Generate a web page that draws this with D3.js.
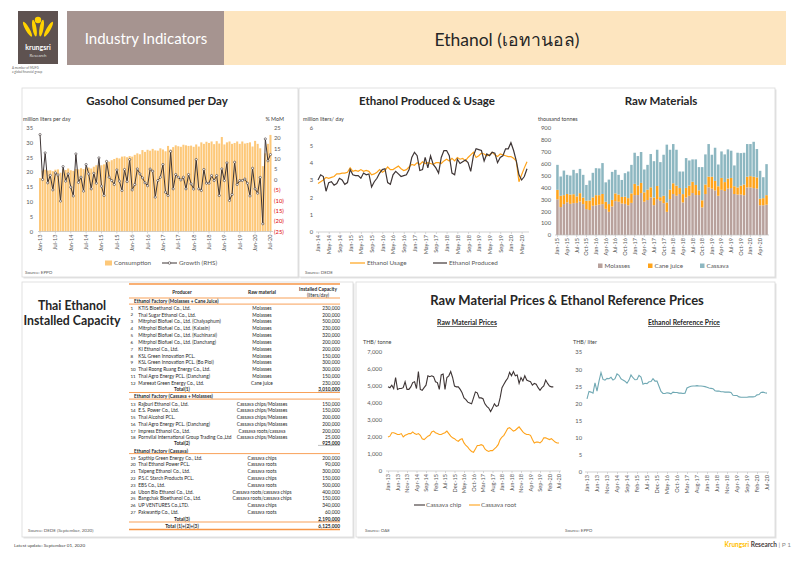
<!DOCTYPE html>
<html>
<head>
<meta charset="utf-8">
<script src="https://cdn.jsdelivr.net/npm/d3@7"></script>
<style>
body { margin: 0; background: #fff; }
svg { font-family: Lato, "Noto Sans", "DejaVu Sans", sans-serif; }
</style>
</head>
<body>
<svg id="page" width="800" height="565"></svg>
<script>
// ---------- data ----------
const gasTicks = ["Jan-13","Jul-13","Jan-14","Jul-14","Jan-15","Jul-15","Jan-16","Jul-16","Jan-17","Jul-17","Jan-18","Jul-18","Jan-19","Jul-19","Jan-20","Jul-20"];
const consumption = [
  18.0, 20.5, 20.8, 20.5, 20.6, 20.3, 20.8, 20.9, 19.8, 21.0, 20.7, 21.2,
  20.6, 20.4, 21.0, 20.9, 21.3, 21.0, 21.6, 21.5, 21.2, 21.8, 22.3, 22.4,
  22.3, 22.6, 23.8, 23.5, 24.0, 24.4, 24.8, 24.6, 25.2, 25.3, 25.0, 25.4,
  25.2, 25.8, 26.3, 26.0, 27.4, 26.8, 27.5, 27.2, 27.8, 27.3, 27.2, 28.0,
  27.6, 27.0, 28.8, 27.6, 28.4, 29.0, 28.7, 28.5, 29.2, 29.0, 28.8, 28.9,
  28.5, 29.3, 28.6, 30.0, 29.5, 30.2, 29.8, 30.3, 29.4, 30.4, 29.6, 31.8,
  29.3, 30.0, 30.3, 29.5, 29.8, 30.3, 29.5, 30.3, 29.6, 29.8, 30.0, 28.6,
  30.5, 29.5, 28.0, 22.0, 26.3, 29.5, 32.5
];
const growth = [
  21.6, 0, 12.8, -1.6, 2, -5, 3.2, 2.2, -10.4, 6.2,
  -0.8, 2.7, -3.7, -7.9, 12.3, -1.4, 1.1, -5.6, 7.2, 2.7,
  -4.5, 3, -1.8, 10.4, -3.2, -7.7, 8.7, 1.1, -0.5, -2.4,
  4.6, -0.8, -5.3, 4.8, -1, 9.6, -5, -2.4, 5.1, 2.7,
  0.8, -1.6, -3, 5, 4, -8.5, -0.5, 1.1, 7.2, -6.1,
  -7.7, 13.5, -4.5, 2.4, 1.1, -0.2, 1.1, -4.5, 2.4, -2.1,
  -4.6, 9.6, -4.5, -5.3, 4.8, -1.8, -1.8, 1.9, -0.5, 1.9,
  -7.7, 5.1, -0.5, 8, -10.1, -7.2, 8.3, -2.4, -0.5, -0.5,
  0.2, -1.8, -7.9, 5.4, -4.5, -6.6, 1, -21.3, 19.5, 9, 12
];

const ethTicks = ["Jan-14","May-14","Sep-14","Jan-15","May-15","Sep-15","Jan-16","May-16","Sep-16","Jan-17","May-17","Sep-17","Jan-18","May-18","Sep-18","Jan-19","May-19","Sep-19","Jan-20","May-20"];
const ethanolUsage = [
  2.8, 2.9, 3.0, 3.15, 3.1, 3.15, 3.2, 3.35, 3.35, 3.4, 3.4, 3.45,
  3.7, 3.5, 3.55, 3.5, 3.6, 3.5, 3.55, 3.5, 3.3, 3.35, 3.45, 3.6,
  3.45, 3.55, 3.75, 3.6, 3.6, 3.7, 3.8, 3.65, 3.55, 3.6, 3.75, 3.9,
  3.85, 4.0, 3.9, 4.05, 3.95, 4.0, 3.95, 3.9, 4.0, 4.0, 3.95, 4.1,
  4.2, 4.1, 4.25, 4.1, 4.3, 4.2, 4.25, 4.1, 4.3, 4.45, 4.6, 4.3,
  4.4, 4.55, 4.5, 4.4, 4.45, 4.6, 4.45, 4.35, 4.5, 4.45, 4.4, 4.35,
  4.35, 4.25, 4.1, 2.9, 3.3, 3.7, 4.05
];
const ethanolProduced = [
  3.0, 3.3, 3.2, 2.35, 2.85, 2.9, 2.7, 2.8, 3.1, 3.0, 2.75, 2.85,
  3.6, 3.3, 3.25, 3.25, 3.1, 3.4, 3.3, 3.35, 2.6, 2.9, 3.1, 3.4,
  3.6, 3.65, 2.85, 2.75, 3.3, 3.5, 3.35, 3.2, 3.25, 3.3, 3.6, 4.3,
  4.6, 4.4, 3.55, 3.6, 4.3, 3.7, 4.4, 3.9, 3.7, 3.4, 4.3, 4.7,
  4.7, 4.4, 3.4, 3.3, 4.2, 3.95, 4.05, 4.15, 4.0, 3.5, 4.4, 4.8,
  4.75, 4.7, 4.1, 4.5, 4.4, 4.6, 4.55, 4.0, 4.3, 4.4, 4.8, 4.8,
  5.15, 4.7, 4.1, 3.3, 3.0, 3.2, 3.65
];

const rawTicks = ["Jan-15","Apr-15","Jul-15","Oct-15","Jan-16","Apr-16","Jul-16","Oct-16","Jan-17","Apr-17","Jul-17","Oct-17","Jan-18","Apr-18","Jul-18","Oct-18","Jan-19","Apr-19","Jul-19","Oct-19","Jan-20","Apr-20"];
const molasses = [
  300, 235, 260, 275, 262, 268, 270, 282, 260, 218, 210, 246,
  250, 255, 260, 220, 195, 240, 285, 280, 265, 262, 250, 270,
  336, 336, 353, 280, 294, 316, 251, 302, 288, 268, 195, 302,
  345, 330, 345, 274, 316, 330, 353, 336, 336, 232, 345, 401,
  390, 375, 330, 380, 370, 390, 395, 345, 340, 340, 335, 400,
  400, 395, 390, 250, 250, 255
];
const caneJuice = [
  80, 95, 75, 70, 78, 75, 55, 70, 55, 70, 80, 70,
  85, 80, 85, 60, 65, 55, 65, 60, 55, 60, 60, 80,
  94, 80, 85, 79, 87, 85, 65, 110, 30, 62, 79, 79,
  90, 85, 50, 70, 80, 85, 95, 85, 40, 60, 80, 90,
  100, 80, 80, 100, 75, 85, 85, 65, 60, 75, 90, 90,
  95, 95, 95, 55, 60, 80
];
const cassava = [
  210, 162, 207, 161, 160, 205, 195, 204, 191, 133, 168, 207,
  227, 225, 260, 163, 206, 236, 198, 166, 143, 198, 224, 240,
  262, 248, 260, 192, 209, 280, 305, 305, 295, 345, 486, 336,
  330, 302, 139, 190, 251, 212, 188, 215, 195, 279, 253, 274,
  185, 279, 183, 223, 233, 245, 229, 175, 292, 274, 267, 275,
  270, 294, 238, 235, 176, 261
];

const priceTicks = ["Jan-13","Jun-13","Nov-13","Apr-14","Sep-14","Feb-15","Jul-15","Dec-15","May-16","Oct-16","Mar-17","Aug-17","Jan-18","Jun-18","Nov-18","Apr-19","Sep-19","Feb-20","Jul-20"];
const cassavaChip = [
  4950, 4900, 5050, 4850, 5500, 4800, 4850, 4850, 4900, 5250,
  4800, 4800, 4950, 5200, 5250, 4850, 5850, 4800, 4750, 4900,
  5050, 5600, 5550, 5600, 5550, 5250, 5200, 4800, 5650, 5700,
  4800, 5500, 5600, 5850, 5500, 5000, 4950, 4950, 4800, 4600,
  4300, 4200, 4050, 4000, 3950, 4300, 4650, 4600, 4300, 4300,
  4250, 3950, 3800, 3700, 3500, 3700, 3950, 3800, 3850, 4300,
  4900, 5100, 5300, 5450, 5800, 5600, 5850, 5600, 5650, 5150,
  5500, 5300, 5600, 5350, 5300, 5250, 5050, 5150, 5100, 4900,
  4750, 4900, 5000, 5350, 5150, 5000, 4950, 4950, null, null, null
];
const cassavaRoot = [
  2000, 2050, 2250, 2250, 2200, 2150, 2150, 2200, 2000, 2100,
  2150, 2200, 2200, 2300, 2200, 2150, 2200, 2100, 1900, 1850,
  1950, 2050, 2100, 2300, 2350, 2250, 2200, 2150, 2150, 2200,
  2250, 2350, 2200, 2050, 1950, 1900, 1800, 1750, 1850, 1900,
  1650, 1500, 1400, 1250, 1150, 1100, 1300, 1500, 1500, 1550,
  1500, 1300, 1200, 1150, 1200, 1200, 1300, 1400, 1550, 1850,
  2000, 2100, 2300, 2500, 2550, 2450, 2350, 2400, 2500, 2600,
  2450, 2300, 2200, 2150, 2150, 2100, 1850, 1650, 1700, 1700,
  1650, 1750, 1950, 1950, 1900, 1850, 1900, 1800, 1700, 1650, 1650
];
const ethanolRefPrice = [
  21.3, 23.5, 23.3, 23.0, 26.0, 23.6, 26.5, 29.0, 27.0, 26.8,
  27.3, 27.2, 27.6, 26.8, 27.2, 28.6, 28.2, 27.2, 26.8, 26.5,
  25.9, 26.8, 28.3, 27.5, 26.9, 27.0, 28.2, 27.7, 25.6, 25.9,
  25.8, 26.3, 26.4, 27.2, 26.5, 26.5, 25.0, 23.5, 22.9, 22.9,
  23.1, 23.0, 22.8, 23.3, 23.2, 23.2, 23.0, 23.0, 22.9, 23.0,
  24.5, 24.8, 25.0, 25.1, 25.1, 25.2, 25.1, 25.1, 25.0, 24.9,
  24.7, 24.5, 24.4, 24.3, 23.7, 23.6, 23.6, 23.4, 23.4, 23.3,
  23.3, 23.3, 23.2, 22.4, 22.3, 22.3, 21.9, 21.8, 21.8, 21.8,
  21.8, 21.9, 21.9, 21.9, 22.0, 22.5, 22.6, 23.2, 23.3, 23.1, 23.0
];

// installed capacity table
const molassesFactories = [
  ["1", "KTIS Bioethanol Co., Ltd.", "Molasses", "230,000"],
  ["2", "Thai Sugar Ethanol Co., Ltd.", "Molasses", "200,000"],
  ["3", "Mitrphol Biofuel  Co., Ltd. (Chaiyaphum)", "Molasses", "500,000"],
  ["4", "Mitrphol Biofuel Co., Ltd. (Kalasin)", "Molasses", "230,000"],
  ["5", "Mitrphol Biofuel Co., Ltd. (Kuchinarai)", "Molasses", "320,000"],
  ["6", "Mitrphol Biofuel Co., Ltd. (Danchang)", "Molasses", "200,000"],
  ["7", "KI Ethanol Co., Ltd.", "Molasses", "200,000"],
  ["8", "KSL Green Innovation PCL.", "Molasses", "150,000"],
  ["9", "KSL Green Innovation PCL. (Bo Ploi)", "Molasses", "300,000"],
  ["10", "Thai Roong Ruang Energy Co., Ltd.", "Molasses", "300,000"],
  ["11", "Thai Agro Energy PCL. (Danchang)", "Molasses", "150,000"],
  ["12", "Mareeat Green Energy Co., Ltd.", "Cane juice", "230,000"]
];
const mixedFactories = [
  ["13", "Rajburi Ethanol Co., Ltd.", "Cassava chips/Molasses", "150,000"],
  ["14", "E.S. Power Co., Ltd.", "Cassava chips/Molasses", "150,000"],
  ["15", "Thai Alcohol PCL.", "Cassava chips/Molasses", "200,000"],
  ["16", "Thai Agro Energy PCL. (Danchang)", "Cassava chips/Molasses", "200,000"],
  ["17", "Impress Ethanol Co., Ltd.", "Cassava roots/cassava", "200,000"],
  ["18", "Pornvilai International Group Trading Co.,Ltd", "Cassava chips/Molasses", "25,000"]
];
const cassavaFactories = [
  ["19", "Sapthip Green Energy Co., Ltd.", "Cassava chips", "200,000"],
  ["20", "Thai Ethanol Power PCL.", "Cassava roots", "90,000"],
  ["21", "Taipeng Ethanol  Co., Ltd.", "Cassava roots", "300,000"],
  ["22", "P.S.C Starch Products PCL.", "Cassava chips", "150,000"],
  ["23", "EBS Co., Ltd.", "Cassava roots", "500,000"],
  ["24", "Ubon Bio Ethanol Co., Ltd.", "Cassava roots/cassava chips", "400,000"],
  ["25", "Bangchak Bioethanol Co., Ltd.", "Cassava roots/cassava chips", "150,000"],
  ["26", "UP VENTURES Co.,LTD.", "Cassava chips", "340,000"],
  ["27", "Pakwantip Co., Ltd.", "Cassava roots", "60,000"]
];
const totals = ["3,010,000", "925,000", "2,190,000", "6,125,000"];

// ---------- helpers ----------
const svg = d3.select("#page");
const fmtMonth = d3.timeFormat("%b-%y");
const monthsFrom = (y, m, n) => d3.timeMonth.range(new Date(y, m, 1), new Date(y, m + n, 1)).map(fmtMonth);
const TXT = "#595959";

function panel(x, y, w, h) {
  svg.append("rect").attr("x", x + 1.5).attr("y", y + 1.5).attr("width", w).attr("height", h).attr("fill", "#e3e3e3");
  svg.append("rect").attr("x", x).attr("y", y).attr("width", w).attr("height", h)
    .attr("fill", "#fff").attr("stroke", "#d9d9d9").attr("stroke-width", 0.8);
}
function label(x, y, t, o = {}) {
  return svg.append("text").attr("x", x).attr("y", y).text(t)
    .attr("font-size", o.size || 6).attr("fill", o.fill || TXT)
    .attr("font-weight", o.bold ? "bold" : null)
    .attr("text-anchor", o.anchor || "start");
}
function yAxis(scale, x, ticks, fmt, side) {
  const ax = (side === "right" ? d3.axisRight(scale) : d3.axisLeft(scale))
    .tickValues(ticks).tickSize(0).tickPadding(0).tickFormat(fmt);
  const g = svg.append("g").attr("transform", `translate(${x},0)`).call(ax);
  g.select(".domain").remove();
  g.attr("font-size", 5.8).attr("font-family", null);
  g.selectAll("text").attr("fill", TXT);
  return g;
}
function xAxis(scale, y, ticks, x0, x1) {
  const g = svg.append("g").attr("transform", `translate(0,${y})`)
    .call(d3.axisBottom(scale).tickValues(ticks).tickSize(2).tickSizeOuter(0));
  g.select(".domain").attr("d", `M${x0},0H${x1}`).attr("stroke", "#bfbfbf").attr("stroke-width", 0.7);
  g.selectAll(".tick line").attr("stroke", "#bfbfbf").attr("stroke-width", 0.6);
  g.attr("font-size", 5.6).attr("font-family", null);
  g.selectAll("text").attr("fill", TXT)
    .attr("transform", "rotate(-90)").attr("text-anchor", "end")
    .attr("x", -3).attr("y", 0).attr("dy", "0.35em");
  return g;
}

// ---------- header ----------
svg.append("rect").attr("x", 18).attr("y", 11).attr("width", 40).attr("height", 53).attr("fill", "#5e5250");
const logo = svg.append("g").attr("fill", "#ffd200");
[[-30, -6], [-10, -2], [10, 2], [30, 6]].forEach(([a, dx]) => {
  logo.append("ellipse").attr("cx", 38 + dx).attr("cy", 28).attr("rx", 2).attr("ry", 8.5)
    .attr("transform", `rotate(${a},${38 + dx},37)`);
});
logo.append("circle").attr("cx", 38).attr("cy", 20).attr("r", 3.2);
label(38, 50, "krungsri", { size: 7, fill: "#fff", anchor: "middle", bold: true });
label(38, 57, "Research", { size: 4.3, fill: "#ddd", anchor: "middle" });
label(12, 68.5, "A member of  MUFG", { size: 3, fill: "#666" });
label(12, 72.5, "a global financial group", { size: 3, fill: "#666" });

svg.append("rect").attr("x", 67).attr("y", 11).attr("width", 157).attr("height", 54).attr("fill", "#a69490");
svg.append("rect").attr("x", 224).attr("y", 11).attr("width", 562).attr("height", 54).attr("fill", "#fde5bf");
label(146, 43.5, "Industry Indicators", { size: 15, fill: "#fff", anchor: "middle" });
label(507, 45.5, "Ethanol (เอทานอล)", { size: 17.5, fill: "#262626", anchor: "middle" });

// ---------- panels ----------
panel(22, 88, 276, 189);
panel(299, 88, 476, 189);
panel(22, 282, 331, 255);
panel(356, 282, 419, 255);

// ---------- Gasohol consumed per day ----------
{
  const months = monthsFrom(2013, 0, consumption.length);
  const x = d3.scaleBand().domain(months).range([38.5, 272]).padding(0.2);
  const y = d3.scaleLinear().domain([0, 35]).range([231.5, 127.5]);
  const yR = d3.scaleLinear().domain([-25, 25]).range([231.5, 127.5]);

  label(157, 105, "Gasohol Consumed per Day", { size: 11.5, fill: "#262626", bold: true, anchor: "middle" });
  label(23, 121, "million liters per day", { size: 5.4, fill: "#404040" });
  label(284, 121, "% MoM", { size: 5.4, fill: "#404040", anchor: "end" });

  yAxis(y, 33, d3.range(0, 36, 5), d3.format("d"));
  const gr = yAxis(yR, 274, d3.range(-25, 26, 5), d => d < 0 ? `(${-d})` : d, "right");
  gr.selectAll("text").attr("fill", d => d < 0 ? "#e00000" : TXT);

  svg.append("g").selectAll("rect").data(consumption).join("rect")
    .attr("x", (d, i) => x(months[i])).attr("width", x.bandwidth())
    .attr("y", d => y(d)).attr("height", d => y(0) - y(d))
    .attr("fill", "#fdc879");

  xAxis(x, 231.5, gasTicks, 38, 273);

  const line = d3.line().x((d, i) => x(months[i]) + x.bandwidth() / 2).y(d => yR(d));
  svg.append("path").datum(growth).attr("d", line)
    .attr("fill", "none").attr("stroke", "#3f3636").attr("stroke-width", 1);
  svg.append("g").selectAll("circle").data(growth).join("circle")
    .attr("cx", (d, i) => x(months[i]) + x.bandwidth() / 2).attr("cy", d => yR(d)).attr("r", 1.1)
    .attr("fill", "#fff").attr("stroke", "#3f3636").attr("stroke-width", 0.6);

  svg.append("rect").attr("x", 105).attr("y", 260.5).attr("width", 7).attr("height", 5).attr("fill", "#fdc879");
  label(114, 265, "Consumption", { size: 6.3 });
  svg.append("line").attr("x1", 162).attr("x2", 177).attr("y1", 263).attr("y2", 263).attr("stroke", "#3f3636");
  svg.append("circle").attr("cx", 169.5).attr("cy", 263).attr("r", 1.3).attr("fill", "#fff").attr("stroke", "#3f3636").attr("stroke-width", 0.6);
  label(179, 265, "Growth (RHS)", { size: 6.3 });
  label(25, 274, "Source: EPPO", { size: 4.5 });
}

// ---------- Ethanol produced & usage ----------
{
  const months = monthsFrom(2014, 0, ethanolUsage.length);
  const x = d3.scalePoint().domain(months).range([318, 527]);
  const y = d3.scaleLinear().domain([0, 6]).range([232, 128]);

  label(427, 105, "Ethanol Produced & Usage", { size: 11.5, fill: "#262626", bold: true, anchor: "middle" });
  label(303, 121, "million liters/ day", { size: 5.4, fill: "#404040" });
  yAxis(y, 313, d3.range(0, 7, 1), d3.format("d"));
  xAxis(x, 232, ethTicks, 316, 529);

  const line = d3.line().x((d, i) => x(months[i])).y(d => y(d));
  svg.append("path").datum(ethanolUsage).attr("d", line)
    .attr("fill", "none").attr("stroke", "#ffa31a").attr("stroke-width", 1.2);
  svg.append("path").datum(ethanolProduced).attr("d", line)
    .attr("fill", "none").attr("stroke", "#3f3636").attr("stroke-width", 1.2);

  svg.append("line").attr("x1", 350).attr("x2", 365).attr("y1", 263).attr("y2", 263).attr("stroke", "#ffa31a").attr("stroke-width", 1.2);
  label(367, 265, "Ethanol Usage", { size: 6.3 });
  svg.append("line").attr("x1", 433).attr("x2", 447).attr("y1", 263).attr("y2", 263).attr("stroke", "#3f3636").attr("stroke-width", 1.2);
  label(449, 265, "Ethanol Produced", { size: 6.3 });
  label(305, 274, "Source: DEDE", { size: 4.5 });
}

// ---------- Raw materials ----------
{
  const months = monthsFrom(2015, 0, molasses.length);
  const x = d3.scaleBand().domain(months).range([555.5, 768.5]).padding(0.22);
  const y = d3.scaleLinear().domain([0, 900]).range([235, 128]);
  const keys = ["Molasses", "Cane juice", "Cassava"];
  const colors = { "Molasses": "#b8a19c", "Cane juice": "#ffa31a", "Cassava": "#8db7c1" };
  const rows = months.map((m, i) => ({ month: m, "Molasses": molasses[i], "Cane juice": caneJuice[i], "Cassava": cassava[i] }));
  const stack = d3.stack().keys(keys)(rows);

  label(661, 105, "Raw Materials", { size: 11.5, fill: "#262626", bold: true, anchor: "middle" });
  label(538, 121, "thousand tonnes", { size: 5.4, fill: "#404040" });
  yAxis(y, 551, d3.range(0, 901, 100), d3.format("d"));

  svg.append("g").selectAll("g").data(stack).join("g").attr("fill", d => colors[d.key])
    .selectAll("rect").data(d => d).join("rect")
    .attr("x", d => x(d.data.month)).attr("width", x.bandwidth())
    .attr("y", d => y(d[1])).attr("height", d => y(d[0]) - y(d[1]));

  xAxis(x, 235, rawTicks, 555, 769);

  keys.forEach((k, i) => {
    const lx = [598, 648, 700][i];
    svg.append("rect").attr("x", lx).attr("y", 263.5).attr("width", 4.5).attr("height", 4.5).attr("fill", colors[k]);
    label(lx + 6.5, 268, k, { size: 6.3 });
  });
}

// ---------- Installed capacity table ----------
{
  label(72, 310, "Thai Ethanol", { size: 12.3, fill: "#262626", bold: true, anchor: "middle" });
  label(72, 325, "Installed Capacity", { size: 12.3, fill: "#262626", bold: true, anchor: "middle" });

  const T = svg.append("g");
  const X0 = 129, X1 = 340, C_NUM = 130.5, C_NAME = 138.3, C_MAT = 262, C_CAP = 340, C_TOT = 182;
  const hline = (y, w) => T.append("line").attr("x1", X0).attr("x2", X1).attr("y1", y).attr("y2", y)
    .attr("stroke", "#f79646").attr("stroke-width", w || 0.9);
  const t = (x, y, s, o = {}) => T.append("text").attr("x", x).attr("y", y).attr("dy", "0.35em").text(s)
    .attr("font-size", o.size || 4.8).attr("fill", "#262626")
    .attr("font-weight", o.bold ? "bold" : null).attr("text-anchor", o.anchor || "start");

  hline(284, 1.4);
  t(182, 292.5, "Producer", { bold: true, anchor: "middle" });
  t(262, 292.5, "Raw material", { bold: true, anchor: "middle" });
  t(318, 289.5, "Installed Capacity", { bold: true, anchor: "middle" });
  t(318, 295, "(liters/day)", { anchor: "middle" });
  hline(298);

  const section = (title, rows, ty, firstY, step, totY, totLabel, totVal) => {
    t(134, ty, title, { bold: true });
    hline(ty + 2.6);
    rows.forEach((r, i) => {
      const yy = firstY + i * step;
      t(C_NUM, yy, r[0], { size: 4.5 });
      t(C_NAME, yy, r[1]);
      t(C_MAT, yy, r[2], { anchor: "middle" });
      t(C_CAP, yy, r[3], { anchor: "end" });
    });
    t(C_TOT, totY, totLabel, { bold: true, anchor: "middle" });
    t(C_CAP, totY, totVal, { bold: true, anchor: "end" });
    T.append("line").attr("x1", C_CAP - 22).attr("x2", C_CAP).attr("y1", totY + 2.4).attr("y2", totY + 2.4)
      .attr("stroke", "#262626").attr("stroke-width", 0.3);
  };
  section("Ethanol Factory  (Molasses + Cane Juice)", molassesFactories, 301.5, 308, 6.85, 389.5, "Total(1)", totals[0]);
  hline(392.5);
  section("Ethanol Factory  (Cassava + Molasses)", mixedFactories, 396.5, 404, 6.75, 443, "Total(2)", totals[1]);
  section("Ethanol Factory  (Cassava)", cassavaFactories, 451, 458, 6.8, 519, "Total(3)", totals[2]);
  hline(522);
  t(C_TOT, 526, "Total (1)+(2)+(3)", { bold: true, anchor: "middle" });
  t(C_CAP, 526, totals[3], { bold: true, anchor: "end" });
  hline(529.5, 1.3);

  label(28, 532, "Source: DEDE (September, 2020)", { size: 4.5 });
}

// ---------- Prices ----------
{
  label(567, 305, "Raw Material Prices  & Ethanol Reference Prices", { size: 13, fill: "#262626", bold: true, anchor: "middle" });
  label(467, 325, "Raw Material Prices", { size: 6.8, fill: "#262626", bold: true, anchor: "middle" })
    .attr("text-decoration", "underline");
  label(684, 325, "Ethanol Reference Price", { size: 6.8, fill: "#262626", bold: true, anchor: "middle" })
    .attr("text-decoration", "underline");

  const months = monthsFrom(2013, 0, cassavaRoot.length);

  // raw material prices
  const x = d3.scalePoint().domain(months).range([388, 559]);
  const y = d3.scaleLinear().domain([0, 7000]).range([471, 352]);
  label(363, 344, "THB/ tonne", { size: 5.4, fill: "#404040" });
  yAxis(y, 382, d3.range(0, 7001, 1000), d3.format(","));
  xAxis(x, 471, priceTicks, 386, 561);
  const line = d3.line().defined(d => d != null).x((d, i) => x(months[i])).y(d => y(d));
  svg.append("path").datum(cassavaChip).attr("d", line)
    .attr("fill", "none").attr("stroke", "#3f3636").attr("stroke-width", 1.1);
  svg.append("path").datum(cassavaRoot).attr("d", line)
    .attr("fill", "none").attr("stroke", "#ffa31a").attr("stroke-width", 1.1);

  svg.append("line").attr("x1", 414).attr("x2", 425).attr("y1", 505).attr("y2", 505).attr("stroke", "#3f3636").attr("stroke-width", 1.1);
  label(426, 507, "Cassava chip", { size: 6.3 });
  svg.append("line").attr("x1", 469).attr("x2", 480).attr("y1", 505).attr("y2", 505).attr("stroke", "#ffa31a").attr("stroke-width", 1.1);
  label(481, 507, "Cassava root", { size: 6.3 });
  label(365, 532, "Source: OAE", { size: 4.5 });

  // ethanol reference price
  const x2 = d3.scalePoint().domain(months).range([587, 767]);
  const y2 = d3.scaleLinear().domain([0, 35]).range([472, 352]);
  label(573, 344, "THB/ liter", { size: 5.4, fill: "#404040" });
  yAxis(y2, 582, d3.range(0, 36, 5), d3.format("d"));
  xAxis(x2, 472, priceTicks, 585, 769);
  svg.append("path").datum(ethanolRefPrice)
    .attr("d", d3.line().x((d, i) => x2(months[i])).y(d => y2(d)))
    .attr("fill", "none").attr("stroke", "#6fa8b3").attr("stroke-width", 1.1);
  label(565, 532, "Source: EPPO", { size: 4.5 });
}

// ---------- footer ----------
label(14, 547, "Latest update: September 01, 2020", { size: 4.6, fill: "#404040" });
const ft = svg.append("text").attr("x", 791).attr("y", 547).attr("text-anchor", "end").attr("font-size", 6.5);
ft.append("tspan").text("Krungsri ").attr("fill", "#ffc000").attr("font-weight", "bold");
ft.append("tspan").text("Research").attr("fill", "#4a4040").attr("font-weight", "bold");
ft.append("tspan").text("  |  P 1").attr("fill", "#8c8c8c");
</script>
</body>
</html>
